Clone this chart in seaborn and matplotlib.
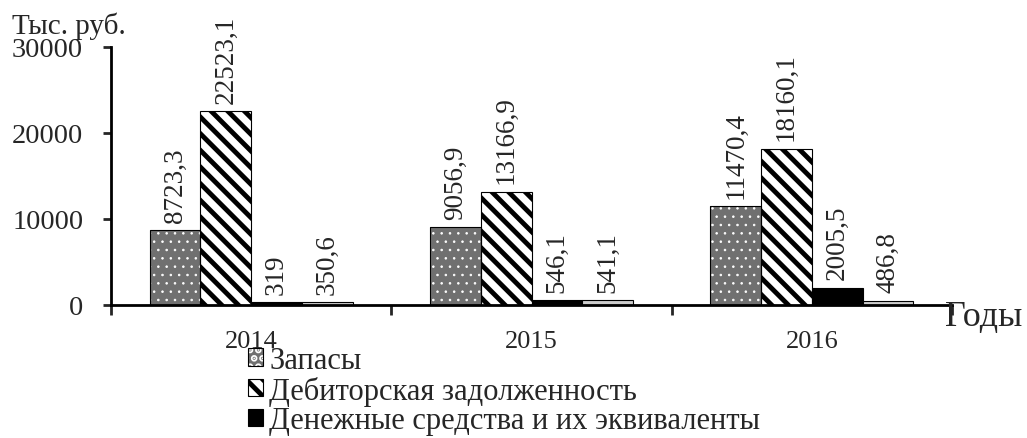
import pandas as pd
import seaborn as sns
import matplotlib.pyplot as plt
from matplotlib.patches import Patch, Rectangle

years = ["2014", "2015", "2016"]
series = ["Запасы", "Дебиторская задолженность",
          "Денежные средства и их эквиваленты", "Прочие оборотные активы"]
zapasy = [8723.3, 9056.9, 11470.4]
debitor = [22523.1, 13166.9, 18160.1]
dengi = [319, 546.1, 2005.5]
prochie = [350.6, 541.1, 486.8]

rows = []
for name, vals in zip(series, [zapasy, debitor, dengi, prochie]):
    for y, v in zip(years, vals):
        rows.append({"Год": y, "Показатель": name, "Значение": v})
df = pd.DataFrame(rows)

sns.set_style("white")
plt.rcParams["font.family"] = ["Liberation Serif", "DejaVu Serif"]
plt.rcParams["hatch.linewidth"] = 3.5

colors = ["#707070", "white", "black", "#cccccc"]

fig = plt.figure(figsize=(10.27, 4.39), dpi=100)
ax = fig.add_axes([0.1081, 0.303, 0.8189, 0.5877])

sns.barplot(data=df, x="Год", y="Значение", hue="Показатель", palette=colors,
            edgecolor="black", linewidth=0.8, width=0.725, gap=0, legend=False, ax=ax)

# patterns
for bar in ax.containers[0]:
    bar.set_edgecolor("white")
    bar.set_hatch("..")
    bar.set_linewidth(0)
    if hasattr(bar, "set_hatch_linewidth"):
        bar.set_hatch_linewidth(0.6)
    ax.add_patch(Rectangle(bar.get_xy(), bar.get_width(), bar.get_height(),
                           fill=False, edgecolor="black", linewidth=0.8))
for bar in ax.containers[1]:
    bar.set_hatch("\\\\")

for cont in ax.containers:
    labels = [f"{b.get_height():g}".replace(".", ",") for b in cont]
    ax.bar_label(cont, labels=labels, rotation=90, padding=6, fontsize=19.5)

ax.set_ylim(0, 30000)
ax.set_yticks([0, 10000, 20000, 30000])
ax.set_xlim(-0.5, 2.5)
ax.set_xlabel("")
ax.set_ylabel("")

for s in ["top", "right"]:
    ax.spines[s].set_visible(False)
for s in ["left", "bottom"]:
    ax.spines[s].set_linewidth(2)
    ax.spines[s].set_color("black")

ax.tick_params(axis="y", direction="out", length=6, width=2, pad=14, labelsize=20.5, left=True)
ax.tick_params(axis="x", which="major", length=0, pad=18, labelsize=19)
ax.set_xticks([-0.5, 0.5, 1.5, 2.5], minor=True)
ax.tick_params(axis="x", which="minor", direction="out", length=7, width=2, bottom=True)

fig.text(12 / 1027, 1 - 34 / 439, "Тыс. руб.", fontsize=21, va="baseline", ha="left")
fig.text(945 / 1027, 1 - 326 / 439, "Годы", fontsize=26, va="baseline", ha="left")

handles = [
    (Patch(facecolor=colors[0], edgecolor="white", hatch="..", linewidth=0),
     Patch(fill=False, edgecolor="black", linewidth=0.8)),
    Patch(facecolor="white", edgecolor="black", hatch="\\\\", linewidth=0.8),
    Patch(facecolor="black", edgecolor="black", linewidth=0.8),
]
fig.legend(handles, series[:3], loc="upper left", bbox_to_anchor=(248 / 1027, 1 - 347 / 439),
           frameon=False, fontsize=22, handlelength=0.5, handleheight=0.5,
           handletextpad=0.2, labelspacing=0.02, borderpad=0, borderaxespad=0)

fig.savefig("out.png", dpi=100)
